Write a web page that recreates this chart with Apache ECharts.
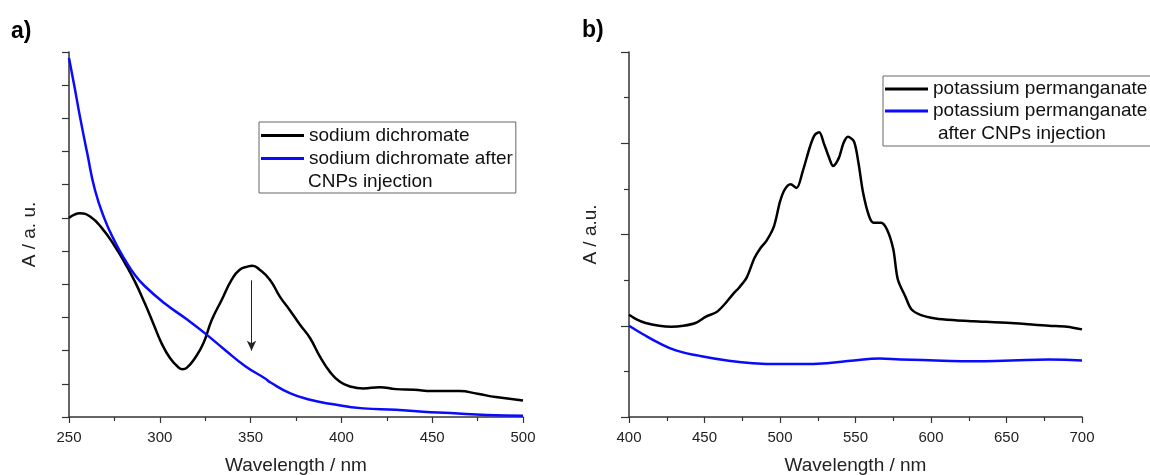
<!DOCTYPE html>
<html>
<head>
    <meta charset="utf-8">
    <title>UV-Vis spectra</title>
    <script src="https://cdn.jsdelivr.net/npm/echarts@6/dist/echarts.min.js"></script>
</head>
<body style="margin:0">
    <div id="main" style="width: 1150px;height:475px;"></div>
    <script type="text/javascript">
        // panel a) sodium dichromate
        var aBlackX = [250, 253, 256, 261.6, 268, 275.3, 280.8, 286.3, 291.8, 296.4, 301, 305.6, 310.2, 312.5, 314.8, 319.4, 324, 328.6, 334, 339.6, 344, 348.7, 351, 355, 360.6, 366.2, 371.6, 377.2, 382.7, 388.2, 393.7, 399.2, 404.8, 412, 421, 430, 440, 450, 465, 475, 485, 500];
        var aBlackY = [3.0, 3.05, 3.07, 3.02, 2.85, 2.57, 2.32, 2.04, 1.71, 1.41, 1.11, 0.89, 0.75, 0.72, 0.74, 0.89, 1.11, 1.46, 1.76, 2.07, 2.22, 2.27, 2.28, 2.22, 2.07, 1.81, 1.61, 1.39, 1.19, 0.91, 0.68, 0.53, 0.46, 0.43, 0.45, 0.42, 0.41, 0.39, 0.39, 0.35, 0.3, 0.25];
        var aBlueX = [250, 253, 256, 260, 264.3, 269.8, 275.3, 280.8, 286.3, 291.8, 302.8, 313.9, 324.9, 335.9, 346.9, 358, 361, 371.6, 382.7, 393.7, 412, 430, 445, 460, 480, 500];
        var aBlueY = [5.41, 4.98, 4.53, 3.98, 3.42, 2.97, 2.64, 2.37, 2.14, 1.97, 1.71, 1.49, 1.26, 1.01, 0.77, 0.58, 0.52, 0.36, 0.26, 0.2, 0.13, 0.11, 0.08, 0.06, 0.03, 0.02];
        // arrow (x, y top, y bottom)
        var arrowX = 350.5, arrowTop = 2.06, arrowBottom = 1.0;

        // panel b) potassium permanganate
        var bBlackX = [400, 405, 411, 420, 428, 436, 444, 451, 458, 463, 469, 473, 478, 483, 487, 491, 496, 500, 503, 507, 511, 515, 520, 523, 526, 529, 533, 535, 539, 542, 545, 549, 552, 555, 559, 562, 567, 571, 575, 578, 583, 587, 593, 603, 616, 628, 653, 678, 690, 700];
        var bBlackY = [1.12, 1.07, 1.03, 1.0, 0.99, 1.0, 1.03, 1.1, 1.15, 1.23, 1.35, 1.42, 1.53, 1.74, 1.85, 1.93, 2.09, 2.36, 2.49, 2.55, 2.51, 2.69, 2.97, 3.09, 3.12, 3.0, 2.82, 2.75, 2.84, 3.0, 3.07, 3.02, 2.78, 2.46, 2.2, 2.13, 2.13, 2.05, 1.84, 1.51, 1.32, 1.18, 1.12, 1.08, 1.06, 1.05, 1.03, 1.0, 0.99, 0.96];
        var bBlueX = [400, 409, 420, 431, 447, 465, 482, 500, 513, 531, 549, 566, 580, 603, 628, 653, 678, 700];
        var bBlueY = [1.0, 0.91, 0.81, 0.73, 0.67, 0.62, 0.59, 0.58, 0.58, 0.59, 0.62, 0.64, 0.63, 0.62, 0.61, 0.62, 0.63, 0.62];

        var names = ['sodium dichromate', 'sodium dichromate after', 'potassium permanganate', 'potassium permanganate '];

        function pairs(xs, ys) {
            return xs.map(function (x, i) { return [x, ys[i]]; });
        }

        var font = "'Liberation Sans', Arial, sans-serif";
        var axisCol = '#333';

        function xAxis(idx, min, max) {
            return {
                type: 'value', gridIndex: idx, min: min, max: max, interval: 50,
                name: 'Wavelength / nm', nameLocation: 'middle', nameGap: 39,
                nameTextStyle: {fontFamily: font, fontSize: 19, color: '#222'},
                axisLine: {lineStyle: {color: axisCol, width: 1.5}},
                axisTick: {length: 6, lineStyle: {color: axisCol, width: 1.2}},
                minorTick: {show: true, splitNumber: 2, length: 4, lineStyle: {color: axisCol, width: 1.2}},
                axisLabel: {fontFamily: font, fontSize: 15, color: '#222', margin: 13},
                splitLine: {show: false}
            };
        }

        var myChart = echarts.init(document.getElementById('main'));

        myChart.setOption({
            animation: false,
            backgroundColor: '#fff',
            title: [
                {text: 'a)', left: 11, top: 20, padding: 0, textStyle: {fontFamily: font, fontSize: 23, fontWeight: 'bold', color: '#000'}},
                {text: 'b)', left: 582, top: 19, padding: 0, textStyle: {fontFamily: font, fontSize: 23, fontWeight: 'bold', color: '#000'}}
            ],
            grid: [
                {left: 69, right: 627, top: 52, bottom: 58, outerBoundsMode: 'none'},
                {left: 629, right: 68, top: 52, bottom: 58, outerBoundsMode: 'none'}
            ],
            xAxis: [xAxis(0, 250, 500), xAxis(1, 400, 700)],
            yAxis: [
                {
                    type: 'value', gridIndex: 0, min: 0, max: 5.5, interval: 0.5,
                    name: 'A / a. u.', nameLocation: 'middle', nameGap: 30,
                    nameTextStyle: {fontFamily: font, fontSize: 19, color: '#222'},
                    axisLine: {show: true, lineStyle: {color: axisCol, width: 1.5}},
                    axisTick: {show: true, length: 7, lineStyle: {color: axisCol, width: 1.2}},
                    axisLabel: {show: false},
                    splitLine: {show: false}
                },
                {
                    type: 'value', gridIndex: 1, min: 0, max: 4, interval: 1,
                    name: 'A / a.u.', nameLocation: 'middle', nameGap: 29,
                    nameTextStyle: {fontFamily: font, fontSize: 19, color: '#222'},
                    axisLine: {show: true, lineStyle: {color: axisCol, width: 1.5}},
                    axisTick: {show: true, length: 8, lineStyle: {color: axisCol, width: 1.2}},
                    minorTick: {show: true, splitNumber: 2, length: 5, lineStyle: {color: axisCol, width: 1.2}},
                    axisLabel: {show: false},
                    splitLine: {show: false}
                }
            ],
            legend: [
                {
                    data: [names[0], names[1]], orient: 'vertical', left: 259, top: 122,
                    padding: [2, 3, 23, 2], itemGap: 0, itemWidth: 43, itemHeight: 3, icon: 'rect',
                    borderColor: '#666', borderWidth: 1,
                    textStyle: {fontFamily: font, fontSize: 19, lineHeight: 23, color: '#111'}
                },
                {
                    data: [names[2], names[3]], orient: 'vertical', left: 883, top: 76,
                    padding: [2, 1, 24, 2], itemGap: 0, itemWidth: 43, itemHeight: 3, icon: 'rect',
                    borderColor: '#666', borderWidth: 1,
                    textStyle: {fontFamily: font, fontSize: 19, lineHeight: 22, color: '#111'}
                }
            ],
            graphic: [
                {type: 'text', left: 308, top: 172, style: {text: 'CNPs injection', font: '19px ' + font, fill: '#111'}},
                {type: 'text', left: 938, top: 124, style: {text: 'after CNPs injection', font: '19px ' + font, fill: '#111'}}
            ],
            series: [
                {
                    name: names[0], type: 'line', xAxisIndex: 0, yAxisIndex: 0, symbol: 'none', smooth: 0.5,
                    color: '#000', lineStyle: {width: 2.5}, data: pairs(aBlackX, aBlackY),
                    markLine: {
                        silent: true, symbol: ['none', 'arrow'], symbolSize: [7, 10], label: {show: false},
                        lineStyle: {color: '#222', width: 1, type: 'solid'},
                        data: [[{coord: [arrowX, arrowTop]}, {coord: [arrowX, arrowBottom]}]]
                    }
                },
                {
                    name: names[1], type: 'line', xAxisIndex: 0, yAxisIndex: 0, symbol: 'none', smooth: 0.5,
                    color: '#0a0aff', lineStyle: {width: 2.5}, data: pairs(aBlueX, aBlueY)
                },
                {
                    name: names[2], type: 'line', xAxisIndex: 1, yAxisIndex: 1, symbol: 'none', smooth: 0.3,
                    color: '#000', lineStyle: {width: 2.5}, data: pairs(bBlackX, bBlackY)
                },
                {
                    name: names[3], type: 'line', xAxisIndex: 1, yAxisIndex: 1, symbol: 'none', smooth: 0.5,
                    color: '#0a0aff', lineStyle: {width: 2.5}, data: pairs(bBlueX, bBlueY)
                }
            ]
        });
    </script>
</body>
</html>
